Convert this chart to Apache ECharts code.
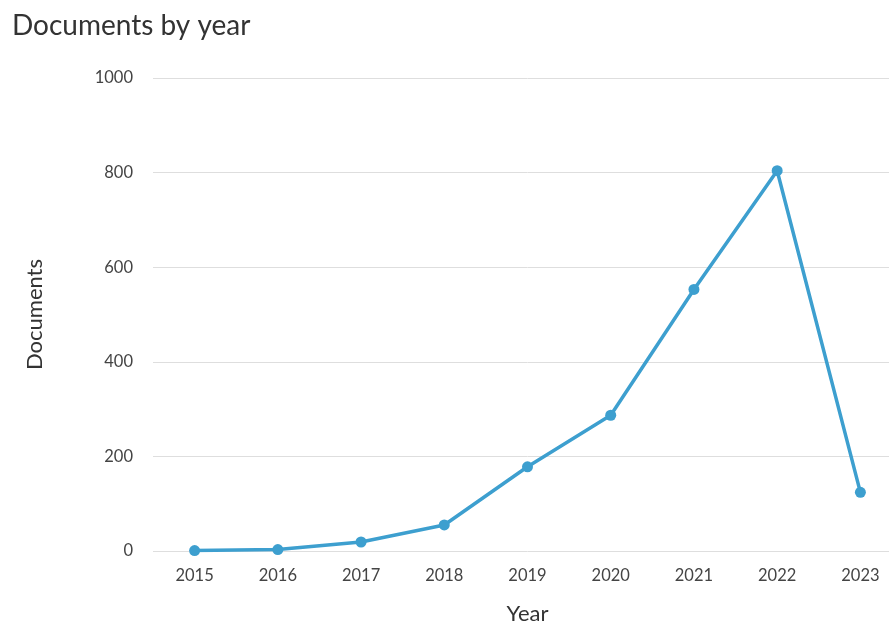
<!DOCTYPE html>
<html><head><meta charset="utf-8">
<script src="https://cdn.jsdelivr.net/npm/echarts@6/dist/echarts.min.js"></script>
<style>html,body{margin:0;padding:0;background:#fff;overflow:hidden;width:889px;height:625px;}#c{width:902px;height:625px;}</style>
</head><body><div id="c"></div>
<script>
const years = ['2015','2016','2017','2018','2019','2020','2021','2022','2023'];
const documents = [1, 3, 19, 55, 178, 287, 553, 804, 124];
const yTicks = {min: 0, max: 1000, interval: 200};

const chart = echarts.init(document.getElementById('c'));
chart.setOption({
  animation: false,
  title: {text: 'Documents by year', left: 7, top: 7,
    textStyle: {fontFamily: 'Lato', fontSize: 28, fontWeight: 'normal', color: '#333'}},
  grid: {left: 153, right: 0, top: 78, height: 473, containLabel: false, outerBoundsMode: 'none'},
  xAxis: {
    type: 'category', data: years, boundaryGap: true,
    name: 'Year', nameLocation: 'middle', nameGap: 52,
    nameTextStyle: {fontFamily: 'Lato', fontSize: 22, color: '#333'},
    axisLine: {show: false}, axisTick: {show: false},
    axisLabel: {fontFamily: 'Lato', fontSize: 16.5, color: '#444', margin: 16}
  },
  yAxis: {
    type: 'value', min: yTicks.min, max: yTicks.max, interval: yTicks.interval,
    name: 'Documents', nameLocation: 'middle', nameGap: 107, nameRotate: 90,
    nameTextStyle: {fontFamily: 'Lato', fontSize: 22, color: '#333'},
    axisLine: {show: false}, axisTick: {show: false},
    axisLabel: {fontFamily: 'Lato', fontSize: 16.5, color: '#444', margin: 20,
      formatter: v => String(v)},
    splitLine: {lineStyle: {color: '#dedede', width: 1}}
  },
  series: [{
    type: 'line', data: documents, symbol: 'circle', symbolSize: 11,
    lineStyle: {color: '#3d9fcf', width: 3.5},
    itemStyle: {color: '#3d9fcf'}
  }]
});
</script></body></html>
